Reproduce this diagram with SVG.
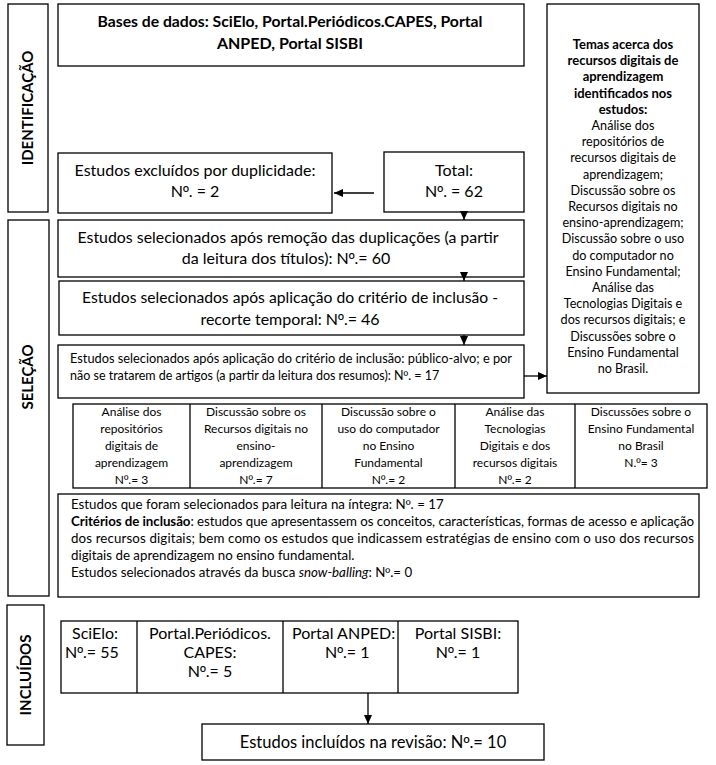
<svg xmlns="http://www.w3.org/2000/svg" width="716" height="765" viewBox="0 0 716 765">
<defs>
<style>
.bx{fill:#fff;stroke:#000;stroke-width:1.3}
.ln{fill:none;stroke:#000;stroke-width:1.3}
text{font-family:Lato,"Liberation Sans",sans-serif;fill:#000}
.o{font-family:"Liberation Sans",Arial,sans-serif}
.m{font-size:16px}
.s{font-size:12.5px}
.i{font-size:13.3px}
.k{font-size:12px}
.tm{font-size:12.6px}
.tb{font-size:13px;font-weight:bold}
.lb{font-size:15px;font-weight:bold}
.c{text-anchor:middle}
.bd{font-weight:bold}
</style>
<marker id="ah" markerUnits="userSpaceOnUse" markerWidth="9" markerHeight="8" refX="9" refY="4" orient="auto">
<path d="M0,0 L9,4 L0,8 z" fill="#000"/>
</marker>
</defs>
<rect width="716" height="765" fill="#fff"/>

<g id="lbl-identificacao">
<rect class="bx" x="8" y="4" width="40" height="208"/>
<text class="lb c" transform="translate(33,108) rotate(-90)">IDENTIFICAÇÃO</text>
</g>
<g id="lbl-selecao">
<rect class="bx" x="8" y="220" width="41" height="376"/>
<text class="lb c" transform="translate(33,377) rotate(-90)">SELEÇÃO</text>
</g>
<g id="lbl-incluidos">
<rect class="bx" x="7" y="605" width="37" height="140"/>
<text class="lb c" transform="translate(31,675) rotate(-90)">INCLUÍDOS</text>
</g>

<g id="bases">
<rect class="bx" x="58" y="4" width="466" height="62"/>
<text class="m c bd" x="290" y="27" textLength="385" lengthAdjust="spacingAndGlyphs">Bases de dados: SciElo, Portal.Periódicos.CAPES, Portal</text>
<text class="m c bd" x="290" y="49">ANPED, Portal SISBI</text>
</g>

<g id="temas">
<rect class="bx" x="547" y="4" width="152" height="389"/>
<g class="c">
<text x="623" y="49" class="tb">Temas acerca dos</text>
<text x="623" y="65.2" class="tb">recursos digitais de</text>
<text x="623" y="81.4" class="tb">aprendizagem</text>
<text x="623" y="97.6" class="tb">identificados nos</text>
<text x="623" y="113.8" class="tb">estudos:</text>
<text x="623" y="130" class="tm">Análise dos</text>
<text x="623" y="146.2" class="tm">repositórios de</text>
<text x="623" y="162.4" class="tm">recursos digitais de</text>
<text x="623" y="178.6" class="tm">aprendizagem;</text>
<text x="623" y="194.8" class="tm">Discussão sobre os</text>
<text x="623" y="211" class="tm">Recursos digitais no</text>
<text x="623" y="227.2" class="tm">ensino-aprendizagem;</text>
<text x="623" y="243.4" class="tm">Discussão sobre o uso</text>
<text x="623" y="259.6" class="tm">do computador no</text>
<text x="623" y="275.8" class="tm">Ensino Fundamental;</text>
<text x="623" y="292" class="tm">Análise das</text>
<text x="623" y="308.2" class="tm">Tecnologias Digitais e</text>
<text x="623" y="324.4" class="tm">dos recursos digitais; e</text>
<text x="623" y="340.6" class="tm">Discussões sobre o</text>
<text x="623" y="356.8" class="tm">Ensino Fundamental</text>
<text x="623" y="373" class="tm">no Brasil.</text>
</g>
</g>

<g id="excluidos">
<rect class="bx" x="58" y="153" width="274" height="60"/>
<text class="m c" x="195" y="176">Estudos excluídos por duplicidade:</text>
<text class="m c" x="195" y="197">N<tspan class="o">º</tspan>. = 2</text>
</g>

<g id="total">
<rect class="bx" x="384" y="152" width="140" height="60"/>
<text class="m c" x="454" y="176">Total:</text>
<text class="m c" x="454" y="197">N<tspan class="o">º</tspan>. = 62</text>
</g>

<g id="remocao">
<rect class="bx" x="58" y="220" width="466" height="57"/>
<text class="m c" x="288" y="243" textLength="421" lengthAdjust="spacingAndGlyphs">Estudos selecionados após remoção das duplicações (a partir</text>
<text class="m c" x="286" y="264">da leitura dos títulos): N<tspan class="o">º</tspan>.= 60</text>
</g>

<g id="recorte">
<rect class="bx" x="59" y="281" width="465" height="54"/>
<text class="m c" x="290" y="303" textLength="416" lengthAdjust="spacingAndGlyphs">Estudos selecionados após aplicação do critério de inclusão -</text>
<text class="m c" x="290" y="325">recorte temporal: N<tspan class="o">º</tspan>.= 46</text>
</g>

<g id="publico">
<rect class="bx" x="58" y="345" width="466" height="53"/>
<text class="s" x="70" y="363" textLength="442" lengthAdjust="spacingAndGlyphs">Estudos selecionados após aplicação do critério de inclusão: público-alvo; e por</text>
<text class="s" x="70" y="380">não se tratarem de artigos (a partir da leitura dos resumos): N<tspan class="o">º</tspan>. = 17</text>
</g>

<g id="categorias">
<rect class="bx" x="73" y="404" width="634" height="84"/>
<line class="ln" x1="190" y1="404" x2="190" y2="488"/>
<line class="ln" x1="322" y1="404" x2="322" y2="488"/>
<line class="ln" x1="455" y1="404" x2="455" y2="488"/>
<line class="ln" x1="575" y1="404" x2="575" y2="488"/>
<g class="k c">
<text x="131.5" y="416">Análise dos</text>
<text x="131.5" y="433">repositórios</text>
<text x="131.5" y="450">digitais de</text>
<text x="131.5" y="467">aprendizagem</text>
<text x="131.5" y="484">N<tspan class="o">º</tspan>.= 3</text>
<text x="256" y="416">Discussão sobre os</text>
<text x="256" y="433">Recursos digitais no</text>
<text x="256" y="450">ensino-</text>
<text x="256" y="467">aprendizagem</text>
<text x="256" y="484">N<tspan class="o">º</tspan>.= 7</text>
<text x="388.5" y="416">Discussão sobre o</text>
<text x="388.5" y="433">uso do computador</text>
<text x="388.5" y="450">no Ensino</text>
<text x="388.5" y="467">Fundamental</text>
<text x="388.5" y="484">N<tspan class="o">º</tspan>.= 2</text>
<text x="515" y="416">Análise das</text>
<text x="515" y="433">Tecnologias</text>
<text x="515" y="450">Digitais e dos</text>
<text x="515" y="467">recursos digitais</text>
<text x="515" y="484">N<tspan class="o">º</tspan>.= 2</text>
<text x="641" y="416">Discussões sobre o</text>
<text x="641" y="433">Ensino Fundamental</text>
<text x="641" y="450">no Brasil</text>
<text x="641" y="467">N.<tspan class="o">º</tspan>= 3</text>
</g>
</g>

<g id="integra">
<rect class="bx" x="58" y="494" width="641" height="103"/>
<text class="i" x="71" y="509">Estudos que foram selecionados para leitura na íntegra: N<tspan class="o">º</tspan>. = 17</text>
<text class="i" x="71" y="526" textLength="623" lengthAdjust="spacing"><tspan class="bd">Critérios de inclusão</tspan>: estudos que apresentassem os conceitos, características, formas de acesso e aplicação</text>
<text class="i" x="71" y="543" textLength="623" lengthAdjust="spacing">dos recursos digitais; bem como os estudos que indicassem estratégias de ensino com o uso dos recursos</text>
<text class="i" x="71" y="560">digitais de aprendizagem no ensino fundamental.</text>
<text class="i" x="71" y="577">Estudos selecionados através da busca <tspan font-style="italic">snow-balling</tspan>: N<tspan class="o">º</tspan>.= 0</text>
</g>

<g id="bases-incluidas">
<rect class="bx" x="61" y="621" width="457" height="72"/>
<line class="ln" x1="137" y1="621" x2="137" y2="693"/>
<line class="ln" x1="283" y1="621" x2="283" y2="693"/>
<line class="ln" x1="398" y1="621" x2="398" y2="693"/>
<text class="m" x="72" y="639">SciElo:</text>
<text class="m" x="65" y="658">N<tspan class="o">º</tspan>.= 55</text>
<text class="m c" x="210" y="639">Portal.Periódicos.</text>
<text class="m c" x="210" y="658">CAPES:</text>
<text class="m c" x="210" y="677">N<tspan class="o">º</tspan>.= 5</text>
<text class="m" x="292" y="639">Portal ANPED:</text>
<text class="m" x="325" y="658">N<tspan class="o">º</tspan>.= 1</text>
<text class="m c" x="458" y="639">Portal SISBI:</text>
<text class="m c" x="458" y="658">N<tspan class="o">º</tspan>.= 1</text>
</g>

<g id="final">
<rect class="bx" x="202" y="724" width="342" height="36"/>
<text class="c" font-size="16.5" x="373" y="748">Estudos incluídos na revisão: N<tspan class="o">º</tspan>.= 10</text>
</g>

<g id="connectors">
<line class="ln" x1="374" y1="193" x2="334" y2="193" marker-end="url(#ah)"/>
<line class="ln" x1="464" y1="212" x2="464" y2="220" marker-end="url(#ah)"/>
<line class="ln" x1="464" y1="277" x2="464" y2="281" marker-end="url(#ah)"/>
<line class="ln" x1="464" y1="335" x2="464" y2="345" marker-end="url(#ah)"/>
<line class="ln" x1="524" y1="376" x2="547" y2="376" marker-end="url(#ah)"/>
<line class="ln" x1="368" y1="693" x2="368" y2="724" marker-end="url(#ah)"/>
</g>
</svg>
